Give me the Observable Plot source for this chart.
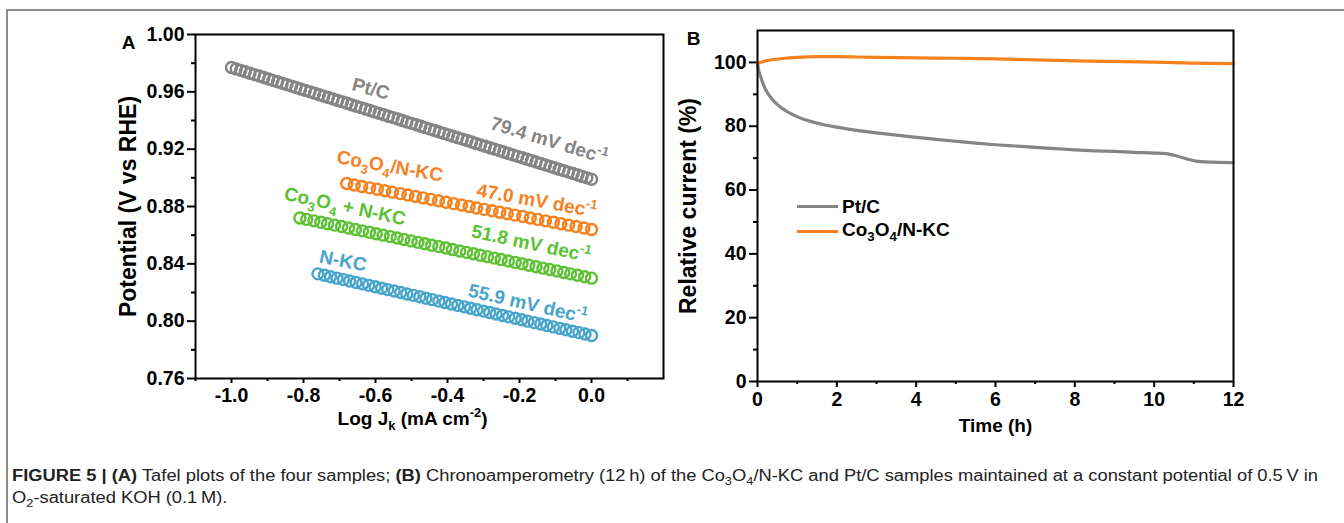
<!DOCTYPE html>
<html><head><meta charset="utf-8">
<script src="https://cdn.jsdelivr.net/npm/d3@7"></script>
<script src="https://cdn.jsdelivr.net/npm/@observablehq/plot@0.6"></script>
<style>
html,body{margin:0;padding:0;background:#fff;}
#root{position:relative;width:1344px;height:523px;overflow:hidden;background:#fff;font-family:"Liberation Sans",Arial,sans-serif;}
#border{position:absolute;left:6px;top:9px;width:1400px;height:600px;border-top:2px solid #8c8c8c;border-left:2px solid #8c8c8c;}
.panel{position:absolute;top:0;}
#legend{position:absolute;left:797px;top:194px;font-weight:bold;font-size:19px;color:#000;}
#legend .row{display:flex;align-items:center;height:25px;}
#legend .sw{width:41px;height:3px;margin-right:4px;}
.cap{position:absolute;left:12px;white-space:nowrap;transform-origin:0 50%;font-family:"Liberation Sans Narrow","Liberation Sans",Arial,sans-serif;font-size:16px;color:#222;line-height:18px;}
.cap b{font-weight:bold;}
</style></head>
<body><div id="root">
<div id="border"></div>
<div id="pa" class="panel" style="left:0px"></div>
<div id="pb" class="panel" style="left:690px"></div>
<div id="legend"></div>
<div id="cap1" class="cap" style="top:467px"><b>FIGURE 5 | (A)</b> Tafel plots of the four samples; <b>(B)</b> Chronoamperometry (12&#8201;h) of the Co<sub style="font-size:70%">3</sub>O<sub style="font-size:70%">4</sub>/N-KC and Pt/C samples maintained at a constant potential of 0.5&#8201;V in</div>
<div id="cap2" class="cap" style="top:489px">O<sub style="font-size:70%">2</sub>-saturated KOH (0.1&#8201;M).</div>
</div>
<script>
// ---------- Panel A data (Tafel plots) ----------
const seriesNames = ["Pt/C", "Co3O4/N-KC", "Co3O4 + N-KC", "N-KC"];
const seriesColors = ["#858585", "#f5821f", "#5bc233", "#47a4cb"];

const ptcLogJ = [-1.000,-0.987,-0.974,-0.962,-0.949,-0.936,-0.923,-0.910,-0.897,-0.885,
-0.872,-0.859,-0.846,-0.833,-0.821,-0.808,-0.795,-0.782,-0.769,-0.756,
-0.744,-0.731,-0.718,-0.705,-0.692,-0.679,-0.667,-0.654,-0.641,-0.628,
-0.615,-0.603,-0.590,-0.577,-0.564,-0.551,-0.538,-0.526,-0.513,-0.500,
-0.487,-0.474,-0.462,-0.449,-0.436,-0.423,-0.410,-0.397,-0.385,-0.372,
-0.359,-0.346,-0.333,-0.321,-0.308,-0.295,-0.282,-0.269,-0.256,-0.244,
-0.231,-0.218,-0.205,-0.192,-0.179,-0.167,-0.154,-0.141,-0.128,-0.115,
-0.103,-0.090,-0.077,-0.064,-0.051,-0.038,-0.026,-0.013,0.000];
const ptcE = [0.977,0.976,0.975,0.974,0.973,0.972,0.971,0.970,0.969,0.968,
0.967,0.966,0.965,0.964,0.963,0.962,0.961,0.960,0.959,0.958,
0.957,0.956,0.955,0.954,0.953,0.952,0.951,0.950,0.949,0.948,
0.947,0.946,0.945,0.944,0.943,0.942,0.941,0.940,0.939,0.938,
0.937,0.936,0.935,0.934,0.933,0.932,0.931,0.930,0.929,0.928,
0.927,0.926,0.925,0.924,0.923,0.922,0.921,0.920,0.919,0.918,
0.917,0.916,0.915,0.914,0.913,0.912,0.911,0.910,0.909,0.908,
0.907,0.906,0.905,0.904,0.903,0.902,0.901,0.900,0.899];

const coNkcLogJ = [-0.680,-0.659,-0.638,-0.616,-0.595,-0.574,-0.553,-0.531,-0.510,-0.489,
-0.468,-0.446,-0.425,-0.404,-0.383,-0.361,-0.340,-0.319,-0.298,-0.276,
-0.255,-0.234,-0.213,-0.191,-0.170,-0.149,-0.128,-0.106,-0.085,-0.064,
-0.043,-0.021,0.000];
const coNkcE = [0.896,0.895,0.894,0.893,0.892,0.891,0.890,0.889,0.888,0.887,
0.886,0.885,0.884,0.883,0.882,0.881,0.880,0.879,0.878,0.877,
0.876,0.875,0.874,0.873,0.872,0.871,0.870,0.869,0.868,0.867,
0.866,0.865,0.864];

const mixLogJ = [-0.810,-0.791,-0.771,-0.752,-0.733,-0.714,-0.694,-0.675,-0.656,-0.636,
-0.617,-0.598,-0.579,-0.559,-0.540,-0.521,-0.501,-0.482,-0.463,-0.444,
-0.424,-0.405,-0.386,-0.366,-0.347,-0.328,-0.309,-0.289,-0.270,-0.251,
-0.231,-0.212,-0.193,-0.174,-0.154,-0.135,-0.116,-0.096,-0.077,-0.058,
-0.039,-0.019,0.000];
const mixE = [0.872,0.871,0.870,0.869,0.868,0.867,0.866,0.865,0.864,0.863,
0.862,0.861,0.860,0.859,0.858,0.857,0.856,0.855,0.854,0.853,
0.852,0.851,0.850,0.849,0.848,0.847,0.846,0.845,0.844,0.843,
0.842,0.841,0.840,0.839,0.838,0.837,0.836,0.835,0.834,0.833,
0.832,0.831,0.830];

const nkcLogJ = [-0.760,-0.742,-0.725,-0.707,-0.689,-0.672,-0.654,-0.636,-0.619,-0.601,
-0.583,-0.566,-0.548,-0.530,-0.513,-0.495,-0.477,-0.460,-0.442,-0.424,
-0.407,-0.389,-0.371,-0.353,-0.336,-0.318,-0.300,-0.283,-0.265,-0.247,
-0.230,-0.212,-0.194,-0.177,-0.159,-0.141,-0.124,-0.106,-0.088,-0.071,
-0.053,-0.035,-0.018,0.000];
const nkcE = [0.833,0.832,0.831,0.830,0.829,0.828,0.827,0.826,0.825,0.824,
0.823,0.822,0.821,0.820,0.819,0.818,0.817,0.816,0.815,0.814,
0.813,0.812,0.811,0.810,0.809,0.808,0.807,0.806,0.805,0.804,
0.803,0.802,0.801,0.800,0.799,0.798,0.797,0.796,0.795,0.794,
0.793,0.792,0.791,0.790];

// annotation labels in panel A (text, series, position in data units, rotation)
const labelText   = ["Pt/C", "79.4 mV dec^{-1}", "Co_{3}O_{4}/N-KC", "47.0 mV dec^{-1}", "Co_{3}O_{4} + N-KC", "51.8 mV dec^{-1}", "N-KC", "55.9 mV dec^{-1}"];
const labelSeries = ["Pt/C", "Pt/C", "Co3O4/N-KC", "Co3O4/N-KC", "Co3O4 + N-KC", "Co3O4 + N-KC", "N-KC", "N-KC"];
const labelX      = [-0.613, -0.118, -0.560, -0.152, -0.685, -0.168, -0.690, -0.177];
const labelY      = [0.962, 0.926, 0.908, 0.884, 0.880, 0.854, 0.842, 0.812];
const labelRot    = [15, 17, 10, 10, 12, 12, 11, 13];

const xTicksA = [-1.0, -0.8, -0.6, -0.4, -0.2, 0.0];
const xMinorA = [-1.1, -0.9, -0.7, -0.5, -0.3, -0.1, 0.1];
const yTicksA = [0.76, 0.80, 0.84, 0.88, 0.92, 0.96, 1.00];
const yMinorA = [0.78, 0.82, 0.86, 0.90, 0.94, 0.98];

// ---------- Panel B data (chronoamperometry) ----------
const ptcTime = [0,0.03,0.08,0.15,0.25,0.35,0.45,0.6,0.75,1.0,1.2,1.4,1.7,2.0,2.5,3.0,3.5,4.0,4.5,5.0,5.5,6.0,6.5,7.0,7.5,8.0,8.5,9.0,9.5,10.0,10.3,10.5,10.7,10.9,11.1,11.3,11.6,12.0];
const ptcCurrent = [100,97.5,95.5,93.0,90.5,88.8,87.4,85.8,84.6,83.0,82.0,81.3,80.4,79.7,78.7,77.9,77.2,76.5,75.9,75.3,74.7,74.2,73.8,73.4,73.0,72.6,72.3,72.1,71.8,71.6,71.4,70.9,70.2,69.5,69.0,68.8,68.7,68.6];
const coTime = [0,0.1,0.25,0.45,0.7,1.0,1.5,2.0,2.5,3.0,4.0,5.0,6.0,7.0,8.0,9.0,10.0,11.0,12.0];
const coCurrent = [99.8,100.1,100.6,101.0,101.3,101.6,101.8,101.8,101.7,101.6,101.4,101.3,101.1,100.8,100.5,100.3,100.1,99.8,99.6];
const legendNames = ["Pt/C", "Co_{3}O_{4}/N-KC"];
const legendColors = ["#858585", "#f5821f"];

const xTicksB = [0, 2, 4, 6, 8, 10, 12];
const xMinorB = [1, 3, 5, 7, 9, 11];
const yTicksB = [0, 20, 40, 60, 80, 100];
const yMinorB = [10, 30, 50, 70, 90];

// ---------- build tables ----------
const tafel = [];
[[seriesNames[0], ptcLogJ, ptcE], [seriesNames[1], coNkcLogJ, coNkcE], [seriesNames[2], mixLogJ, mixE], [seriesNames[3], nkcLogJ, nkcE]]
  .forEach(([name, xs, ys]) => xs.forEach((x, i) => tafel.push({series: name, logJ: x, E: ys[i]})));
const labelsA = labelText.map((t, i) => ({text: t, series: labelSeries[i], x: labelX[i], y: labelY[i], rot: labelRot[i]}));
const ptcRows = ptcTime.map((t, i) => ({t, v: ptcCurrent[i]}));
const coRows = coTime.map((t, i) => ({t, v: coCurrent[i]}));

const FONT = '"Liberation Sans", Arial, sans-serif';
const baseStyle = {fontFamily: FONT, fontSize: "19px", fontWeight: "bold", background: "transparent", color: "#000", overflow: "visible"};
const TICK_FS = 19.5;

const plotA = Plot.plot({
  width: 690, height: 450, marginLeft: 195, marginRight: 27, marginTop: 34, marginBottom: 72,
  style: baseStyle,
  x: {domain: [-1.1, 0.2]},
  y: {domain: [0.76, 1.00]},
  color: {domain: seriesNames, range: seriesColors},
  marks: [
    Plot.axisY({ticks: yTicksA, tickSize: 8, tickPadding: 3, tickFormat: d => d.toFixed(2), label: null, strokeWidth: 2, fontSize: TICK_FS, fontWeight: "bold"}),
    Plot.axisY({ticks: yMinorA, tickSize: 4, tickFormat: () => "", label: null, strokeWidth: 2}),
    Plot.axisX({ticks: xTicksA, tickSize: 5, tickPadding: 5, tickFormat: d => d.toFixed(1), label: null, strokeWidth: 2, fontSize: TICK_FS, fontWeight: "bold"}),
    Plot.axisX({ticks: xMinorA, tickSize: 3, tickFormat: () => "", label: null, strokeWidth: 2}),
    Plot.dot(tafel, {x: "logJ", y: "E", stroke: "series", r: 5.5, strokeWidth: 2.4, fill: "none"}),
    Plot.frame({stroke: "#000", strokeWidth: 2}),
    Plot.text(labelsA, {x: "x", y: "y", text: "text", rotate: "rot", fill: "series", fontSize: 19, fontWeight: "bold", textAnchor: "middle", lineAnchor: "middle"}),
    Plot.text(["Potential (V vs RHE)"], {text: d => d, frameAnchor: "left", dx: -67, rotate: -90, fontSize: 23, fontWeight: "bold", textAnchor: "middle", lineAnchor: "middle"}),
    Plot.text(["Log J_{k} (mA cm^{-2})"], {text: d => d, frameAnchor: "bottom", dx: -17, dy: 40, fontSize: 19, fontWeight: "bold", textAnchor: "middle", lineAnchor: "middle"}),
    Plot.text(["A"], {text: d => d, frameAnchor: "top-left", dx: -67, dy: 8, fontSize: 19, fontWeight: "bold", textAnchor: "middle", lineAnchor: "middle"})
  ]
});

const plotB = Plot.plot({
  width: 654, height: 450, marginLeft: 67, marginRight: 111, marginTop: 30, marginBottom: 69,
  style: baseStyle,
  x: {domain: [0, 12]},
  y: {domain: [0, 110]},
  marks: [
    Plot.axisY({ticks: yTicksB, tickSize: 8, tickPadding: 3, tickFormat: d => String(d), label: null, strokeWidth: 2, fontSize: TICK_FS, fontWeight: "bold"}),
    Plot.axisY({ticks: yMinorB, tickSize: 4, tickFormat: () => "", label: null, strokeWidth: 2}),
    Plot.axisX({ticks: xTicksB, tickSize: 6, tickPadding: 5, tickFormat: d => String(d), label: null, strokeWidth: 2, fontSize: TICK_FS, fontWeight: "bold"}),
    Plot.axisX({ticks: xMinorB, tickSize: 3, tickFormat: () => "", label: null, strokeWidth: 2}),
    Plot.line(ptcRows, {x: "t", y: "v", stroke: legendColors[0], strokeWidth: 3.2, curve: "monotone-x"}),
    Plot.line(coRows, {x: "t", y: "v", stroke: legendColors[1], strokeWidth: 3.2, curve: "monotone-x"}),
    Plot.frame({stroke: "#000", strokeWidth: 2}),
    Plot.text(["Relative current (%)"], {text: d => d, frameAnchor: "left", dx: -69, rotate: -90, fontSize: 23, fontWeight: "bold", textAnchor: "middle", lineAnchor: "middle"}),
    Plot.text(["Time (h)"], {text: d => d, frameAnchor: "bottom", dy: 44, fontSize: 19, fontWeight: "bold", textAnchor: "middle", lineAnchor: "middle"}),
    Plot.text(["B"], {text: d => d, frameAnchor: "top-left", dx: -64, dy: 8, fontSize: 19, fontWeight: "bold", textAnchor: "middle", lineAnchor: "middle"})
  ]
});

document.getElementById("pa").appendChild(plotA);
document.getElementById("pb").appendChild(plotB);

// ---------- rich text (sub/superscripts) ----------
const NS = "http://www.w3.org/2000/svg";
function richify(el) {
  const s = el.textContent;
  if (!/[_^]\{/.test(s)) return;
  const fs = parseFloat(getComputedStyle(el).fontSize) || 19;
  while (el.firstChild) el.removeChild(el.firstChild);
  let shift = 0;
  s.split(/([_^]\{[^}]*\})/).forEach(p => {
    if (!p) return;
    const t = document.createElementNS(NS, "tspan");
    let target = 0, txt = p, small = false;
    if (p.startsWith("_{")) { target = 0.3 * fs; txt = p.slice(2, -1); small = true; }
    else if (p.startsWith("^{")) { target = -0.42 * fs; txt = p.slice(2, -1); small = true; }
    t.setAttribute("dy", (target - shift) + "px");
    shift = target;
    if (small) t.setAttribute("font-size", (0.68 * fs) + "px");
    t.textContent = txt;
    el.appendChild(t);
  });
}
[plotA, plotB].forEach(svg => svg.querySelectorAll("text").forEach(richify));

// ---------- legend (panel B) ----------
const lg = document.getElementById("legend");
legendNames.forEach((n, i) => {
  const row = document.createElement("div");
  row.className = "row";
  const sw = document.createElement("div");
  sw.className = "sw";
  sw.style.background = legendColors[i];
  const tx = document.createElement("span");
  tx.innerHTML = n.replace(/_\{([^}]*)\}/g, '<sub style="font-size:70%">$1</sub>');
  row.appendChild(sw); row.appendChild(tx);
  lg.appendChild(row);
});

// ---------- caption width fit ----------
const c1 = document.getElementById("cap1"), c2 = document.getElementById("cap2");
const w = c1.getBoundingClientRect().width;
const k = 1306 / w;
c1.style.transform = `scaleX(${k})`;
c2.style.transform = `scaleX(${k})`;
</script>
</body></html>
